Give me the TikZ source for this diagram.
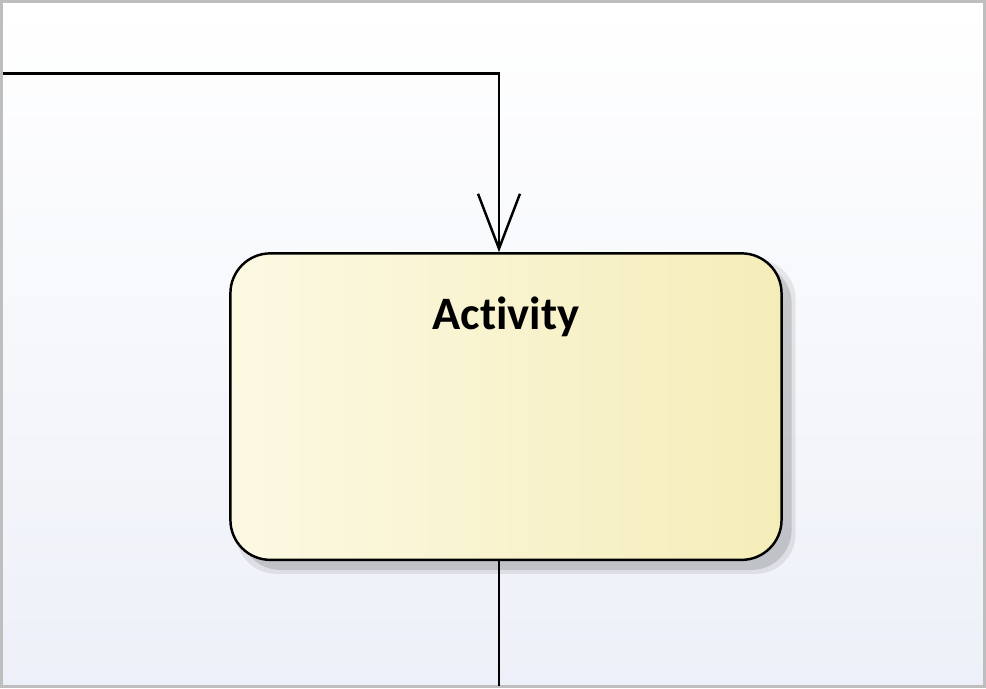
\documentclass[tikz,border=0pt]{standalone}
\usepackage{fontspec}
\setmainfont[Ligatures=NoCommon]{Carlito}
\usetikzlibrary{arrows.meta,positioning,calc}
\definecolor{bgt}{RGB}{255,255,255}
\definecolor{bgb}{RGB}{237,240,248}
\definecolor{al}{RGB}{252,249,227}
\definecolor{ar}{RGB}{245,237,185}
\definecolor{fr}{RGB}{190,190,190}
\tikzset{act/.style={draw,line width=1.4pt,rounded corners=0.8cm,left color=al,right color=ar,
  minimum width=11.04cm,minimum height=6.14cm,inner sep=0pt},
 wire/.style={line width=1.4pt},
 arr/.style={wire,-{Straight Barb[length=11mm,width=8.4mm,line width=1.4pt]}},
 every node/.style={font=\bfseries\fontsize{26.5}{30}\selectfont}}
\begin{document}
\begin{tikzpicture}[x=0.02cm,y=-0.02cm]
\fill[top color=bgt,bottom color=bgb] (0,0) rectangle (986,688);
\draw[fr,line width=1.8pt] (0.9,0.9) rectangle (985.1,687.1);
\useasboundingbox (0,0) rectangle (986,688);
% shadow
\fill[black,opacity=0.13,rounded corners=0.8cm] (240,263) rectangle (792,570);
\fill[black,opacity=0.08,rounded corners=0.8cm] (236,259) rectangle (796,574);
\node[act] (activity) at (506,406.5) {};
\node[anchor=center] (name) at (506,317) {Activity};
\coordinate (in) at (2,73);
\coordinate (out) at (499,686);
\draw[arr] (in) -| (activity.north -| 499,0);
\draw[wire] (activity.south -| 499,0) -- (out);
\end{tikzpicture}
\end{document}
